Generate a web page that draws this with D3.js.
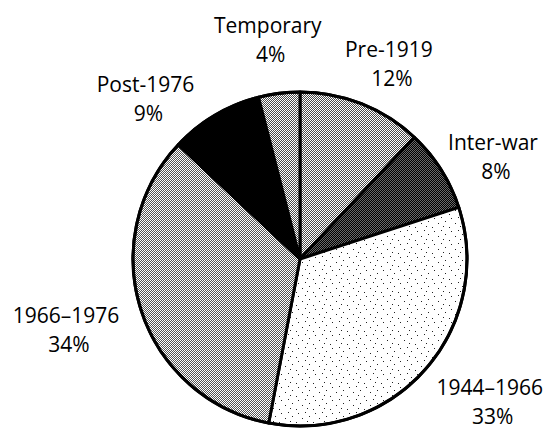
<!DOCTYPE html>
<html>
<head>
<meta charset="utf-8">
<script src="https://cdn.jsdelivr.net/npm/d3@7"></script>
<style>
  html, body { margin: 0; padding: 0; background: #fff; }
  svg { display: block; }
  text.lbl { font-family: "Open Sans", "Noto Sans", sans-serif; font-size: 21px; font-weight: 500; fill: #000; }
</style>
</head>
<body>
<div id="chart"></div>
<script>
// slices, clockwise from 12 o'clock
var periods = ["Pre-1919", "Inter-war", "1944\u20131966", "1966\u20131976", "Post-1976", "Temporary"];
var shares  = [12, 8, 33, 34, 9, 4];
var fills   = ["url(#dotLight)", "url(#dotDark)", "url(#dotSparse)", "url(#dotMid)", "#000", "url(#dotLight)"];
// label nudges off the label ring
var nudges  = [[6, 15], [3, 20], [21, -5], [-20, 2], [-40, 35], [-4, 5]];

var width = 549, height = 431;
var cx = 300, cy = 259, radius = 167, labelR = 225;

var svg = d3.select("#chart").append("svg")
    .attr("width", width)
    .attr("height", height);

// stipple textures
var defs = svg.append("defs");
function checker(id, bg, dot) {
    var p = defs.append("pattern").attr("id", id)
        .attr("width", 2).attr("height", 2)
        .attr("patternUnits", "userSpaceOnUse");
    p.append("rect").attr("width", 2).attr("height", 2).attr("fill", bg);
    p.append("rect").attr("x", 0).attr("y", 0).attr("width", 1).attr("height", 1).attr("fill", dot);
    p.append("rect").attr("x", 1).attr("y", 1).attr("width", 1).attr("height", 1).attr("fill", dot);
}
checker("dotLight", "#fff", "#4a4a4a");
checker("dotMid", "#fff", "#555");
checker("dotDark", "#6a6a6a", "#000");

var sp = defs.append("pattern").attr("id", "dotSparse")
    .attr("width", 17).attr("height", 13)
    .attr("patternUnits", "userSpaceOnUse");
sp.append("rect").attr("width", 17).attr("height", 13).attr("fill", "#fff");
[[2, 3], [9, 1], [13, 7], [5, 10], [15, 11], [7, 6]].forEach(function(d){
    sp.append("rect").attr("x", d[0]).attr("y", d[1]).attr("width", 1).attr("height", 1).attr("fill", "#222");
});

var pie = d3.pie().sort(null).value(function(d){ return d; });
var arcs = pie(shares);

var arc = d3.arc().innerRadius(0).outerRadius(radius);
var labelArc = d3.arc().innerRadius(labelR).outerRadius(labelR);

var g = svg.append("g").attr("transform", "translate(" + cx + "," + cy + ")");

g.selectAll("path.slice").data(arcs)
  .enter().append("path")
    .attr("class", "slice")
    .attr("d", arc)
    .attr("fill", function(d, i){ return fills[i]; })
    .attr("stroke", "#000")
    .attr("stroke-width", 3)
    .attr("stroke-linejoin", "round");

g.append("circle")
    .attr("r", radius)
    .attr("fill", "none")
    .attr("stroke", "#000")
    .attr("stroke-width", 3);

var labels = g.selectAll("g.label").data(arcs)
  .enter().append("g")
    .attr("class", "label")
    .attr("transform", function(d, i){
        var c = labelArc.centroid(d);
        return "translate(" + (c[0] + nudges[i][0]) + "," + (c[1] + nudges[i][1]) + ")";
    });

labels.append("text").attr("class", "lbl")
    .attr("text-anchor", "middle")
    .attr("y", -8)
    .text(function(d, i){ return periods[i]; });

labels.append("text").attr("class", "lbl")
    .attr("text-anchor", "middle")
    .attr("x", 3)
    .attr("y", 21)
    .text(function(d){ return d.data + "%"; });
</script>
</body>
</html>
